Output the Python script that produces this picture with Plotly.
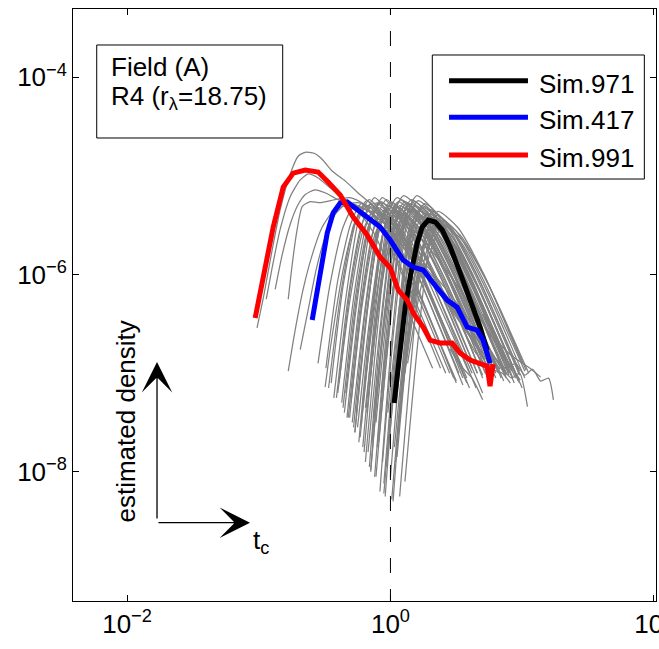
import plotly.graph_objects as go

# ---- data (log10 of t_c and log10 of estimated density) ----
sim971_log_t = [0.028, 0.051, 0.074, 0.112, 0.150, 0.203, 0.241, 0.287, 0.340, 0.393, 0.454, 0.530, 0.606, 0.681, 0.734]
sim971_log_d = [-7.303, -7.070, -6.766, -6.330, -6.025, -5.680, -5.518, -5.447, -5.467, -5.548, -5.721, -5.985, -6.259, -6.532, -6.766]

sim417_log_t = [-0.594, -0.549, -0.480, -0.435, -0.382, -0.329, -0.253, -0.154, -0.078, -0.002, 0.096, 0.172, 0.248, 0.324, 0.430, 0.506, 0.582, 0.658, 0.703, 0.756]
sim417_log_d = [-6.461, -6.086, -5.579, -5.375, -5.274, -5.264, -5.345, -5.447, -5.518, -5.650, -5.853, -5.924, -5.954, -6.086, -6.259, -6.330, -6.532, -6.563, -6.664, -6.898]

sim991_log_t = [-1.027, -0.966, -0.890, -0.814, -0.738, -0.647, -0.549, -0.473, -0.381, -0.283, -0.177, -0.078, -0.002, 0.059, 0.127, 0.173, 0.248, 0.301, 0.377, 0.468, 0.529, 0.605, 0.681, 0.734, 0.756, 0.779]
sim991_log_d = [-6.441, -6.025, -5.518, -5.112, -4.971, -4.940, -4.960, -5.062, -5.194, -5.417, -5.599, -5.823, -5.930, -6.157, -6.259, -6.390, -6.532, -6.664, -6.695, -6.695, -6.796, -6.867, -6.898, -6.928, -7.131, -6.908]

gray_log_t = [
    [-1.013, -0.960, -0.898, -0.837, -0.761, -0.701, -0.648, -0.580, -0.519, -0.443, -0.344, -0.230, -0.078, 0.074, 0.225, 0.377, 0.529, 0.665, 0.757],
    [-0.943, -0.898, -0.837, -0.761, -0.685, -0.625, -0.549, -0.458, -0.344, -0.193, -0.002, 0.188, 0.377, 0.567, 0.719],
    [-0.875, -0.822, -0.761, -0.701, -0.648, -0.572, -0.496, -0.397, -0.268, -0.154, 0.036, 0.225, 0.415, 0.605, 0.757],
    [-0.776, -0.746, -0.708, -0.670, -0.609, -0.534, -0.420, -0.306, -0.193, -0.040, 0.150, 0.340, 0.529, 0.719, 0.833],
    [-0.776, -0.723, -0.663, -0.594, -0.519, -0.443, -0.367, -0.291, -0.193, -0.040, 0.150, 0.377, 0.605, 0.795],
    [-0.685, -0.625, -0.564, -0.496, -0.420, -0.344, -0.246, -0.139, 0.036, 0.225, 0.453, 0.681, 0.871],
    [-0.496, -0.458, -0.412, -0.359, -0.306, -0.246, -0.170, -0.078, 0.036, 0.188, 0.377, 0.605, 0.833, 0.985],
    [-0.49, -0.40, -0.30, -0.22, -0.07, 0.13, 0.38],
    [-0.45, -0.36, -0.26, -0.18, -0.03, 0.17, 0.45],
    [-0.41, -0.32, -0.22, -0.14, 0.01, 0.21, 0.50],
    [-0.39, -0.30, -0.20, -0.12, 0.03, 0.23, 0.55],
    [-0.36, -0.27, -0.17, -0.09, 0.06, 0.26, 0.52],
    [-0.34, -0.25, -0.15, -0.07, 0.08, 0.28, 0.60],
    [-0.32, -0.23, -0.13, -0.05, 0.10, 0.30, 0.58],
    [-0.30, -0.21, -0.11, -0.03, 0.12, 0.32, 0.65],
    [-0.28, -0.19, -0.09, -0.01, 0.14, 0.34, 0.62],
    [-0.26, -0.17, -0.07, 0.01, 0.16, 0.36, 0.70],
    [-0.24, -0.15, -0.05, 0.03, 0.18, 0.38, 0.63],
    [-0.22, -0.13, -0.03, 0.05, 0.20, 0.40, 0.70],
    [-0.20, -0.11, -0.01, 0.07, 0.22, 0.42, 0.68],
    [-0.18, -0.09, 0.01, 0.09, 0.24, 0.44, 0.72],
    [-0.16, -0.07, 0.03, 0.11, 0.26, 0.46, 0.78],
    [-0.14, -0.05, 0.05, 0.13, 0.28, 0.48, 0.76],
    [-0.12, -0.03, 0.07, 0.15, 0.30, 0.50, 0.84],
    [-0.10, -0.01, 0.09, 0.17, 0.32, 0.52, 0.80],
    [-0.08, 0.01, 0.11, 0.19, 0.34, 0.54, 0.88],
    [-0.06, 0.03, 0.13, 0.21, 0.36, 0.56, 0.86],
    [-0.04, 0.05, 0.15, 0.23, 0.38, 0.58, 0.85],
    [-0.02, 0.07, 0.17, 0.25, 0.40, 0.60, 0.93],
    [0.00, 0.09, 0.19, 0.27, 0.42, 0.62, 0.90],
    [0.02, 0.11, 0.21, 0.29, 0.44, 0.64, 0.97],
    [0.04, 0.13, 0.23, 0.31, 0.46, 0.66, 0.95],
    [0.06, 0.15, 0.25, 0.33, 0.48, 0.68, 1.00],
    [0.08, 0.17, 0.27, 0.35, 0.50, 0.70, 1.02],
    [0.11, 0.20, 0.30, 0.38, 0.53, 0.73, 1.03],
    [-0.07, 0.02, 0.12, 0.20, 0.35, 0.55, 0.90],
    [-0.19, -0.10, 0.00, 0.08, 0.23, 0.43, 0.70],
    [-0.37, -0.28, -0.18, -0.10, 0.05, 0.25, 0.55],
    [-0.27, -0.18, -0.08, 0.00, 0.15, 0.35, 0.66],
    [-0.21, -0.12, -0.02, 0.06, 0.21, 0.41, 0.74],
    [-0.15, -0.06, 0.04, 0.12, 0.27, 0.47, 0.78],
    [-0.11, -0.02, 0.08, 0.16, 0.31, 0.51, 0.86],
    [-0.05, 0.04, 0.14, 0.22, 0.37, 0.57, 0.90],
    [-0.01, 0.08, 0.18, 0.26, 0.41, 0.61, 0.95],
    [0.05, 0.14, 0.24, 0.32, 0.47, 0.67, 0.98],
    [-0.31, -0.22, -0.12, -0.04, 0.11, 0.31, 0.55],
    [-0.17, -0.08, 0.02, 0.10, 0.25, 0.45, 0.80],
    [-0.47, -0.38, -0.28, -0.20, -0.05, 0.15, 0.42],
    [-0.43, -0.34, -0.24, -0.16, -0.01, 0.19, 0.48],
    [-0.40, -0.31, -0.21, -0.13, 0.02, 0.22, 0.50],
    [-0.35, -0.26, -0.16, -0.08, 0.07, 0.27, 0.58],
    [-0.33, -0.24, -0.14, -0.06, 0.09, 0.29, 0.60],
    [-0.29, -0.20, -0.10, -0.02, 0.13, 0.33, 0.62],
    [-0.27, -0.18, -0.08, 0.00, 0.15, 0.35, 0.70],
    [-0.25, -0.16, -0.06, 0.02, 0.17, 0.37, 0.66],
    [-0.23, -0.14, -0.04, 0.04, 0.19, 0.39, 0.72],
    [-0.21, -0.12, -0.02, 0.06, 0.21, 0.41, 0.74],
    [-0.19, -0.10, 0.00, 0.08, 0.23, 0.43, 0.78],
    [-0.17, -0.08, 0.02, 0.10, 0.25, 0.45, 0.80],
    [-0.15, -0.06, 0.04, 0.12, 0.27, 0.47, 0.82],
    [-0.13, -0.04, 0.06, 0.14, 0.29, 0.49, 0.80],
    [-0.11, -0.02, 0.08, 0.16, 0.31, 0.51, 0.86],
    [-0.09, 0.00, 0.10, 0.18, 0.33, 0.53, 0.88],
    [-0.05, 0.04, 0.14, 0.22, 0.37, 0.57, 0.88],
    [-0.03, 0.06, 0.16, 0.24, 0.39, 0.59, 0.92],
    [-0.01, 0.08, 0.18, 0.26, 0.41, 0.61, 0.95],
    [0.01, 0.10, 0.20, 0.28, 0.43, 0.63, 0.94],
    [0.03, 0.12, 0.22, 0.30, 0.45, 0.65, 0.98],
    [0.07, 0.16, 0.26, 0.34, 0.49, 0.69, 0.98],
    [0.09, 0.18, 0.28, 0.36, 0.51, 0.71, 1.00],
    [0.13, 0.22, 0.32, 0.40, 0.55, 0.75, 1.05],
    [-0.55, -0.46, -0.36, -0.28, -0.13, 0.07, 0.32],
    [0.11, 0.20, 0.30, 0.38, 0.53, 0.73, 1.02],
    [0.07, 0.16, 0.26, 0.34, 0.49, 0.69, 0.98],
    [0.60, 0.70, 0.80, 0.88, 0.95, 1.02, 1.08, 1.14, 1.20, 1.237],
    [0.65, 0.75, 0.85, 0.92, 0.98, 1.04],
    [0.70, 0.80, 0.90, 0.98, 1.06, 1.14],
    [0.55, 0.65, 0.75, 0.85, 0.91],
    [0.45, 0.55, 0.62, 0.70],
]
gray_log_d = [
    [-6.54, -6.20, -5.75, -5.34, -4.98, -4.80, -4.76, -4.77, -4.83, -4.95, -5.05, -5.19, -5.36, -5.59, -5.87, -6.15, -6.46, -6.76, -6.98],
    [-6.25, -5.93, -5.54, -5.21, -5.04, -4.98, -5.02, -5.12, -5.24, -5.39, -5.59, -5.87, -6.20, -6.56, -6.86],
    [-6.15, -5.80, -5.49, -5.29, -5.19, -5.14, -5.17, -5.24, -5.29, -5.36, -5.59, -5.90, -6.25, -6.61, -6.91],
    [-6.25, -5.90, -5.54, -5.31, -5.26, -5.27, -5.24, -5.22, -5.29, -5.44, -5.75, -6.05, -6.41, -6.76, -6.96],
    [-6.98, -6.56, -6.15, -5.80, -5.52, -5.37, -5.31, -5.30, -5.34, -5.49, -5.80, -6.17, -6.56, -6.91],
    [-6.76, -6.36, -5.95, -5.62, -5.39, -5.29, -5.27, -5.32, -5.52, -5.83, -6.20, -6.61, -7.02],
    [-7.14, -6.76, -6.36, -5.95, -5.64, -5.42, -5.30, -5.27, -5.34, -5.56, -5.87, -6.30, -6.76, -7.07],
    [-6.95, -6.06, -5.48, -5.28, -5.53, -6.13, -6.95],
    [-7.10, -6.12, -5.45, -5.25, -5.50, -6.10, -7.00],
    [-7.25, -6.22, -5.50, -5.30, -5.55, -6.15, -7.10],
    [-7.10, -6.10, -5.42, -5.22, -5.47, -6.07, -7.12],
    [-7.35, -6.27, -5.52, -5.32, -5.57, -6.17, -7.00],
    [-7.20, -6.17, -5.46, -5.26, -5.51, -6.11, -7.15],
    [-7.45, -6.34, -5.55, -5.35, -5.60, -6.20, -7.05],
    [-7.30, -6.21, -5.44, -5.24, -5.49, -6.09, -7.15],
    [-7.55, -6.36, -5.50, -5.30, -5.55, -6.15, -7.00],
    [-7.40, -6.27, -5.47, -5.27, -5.52, -6.12, -7.20],
    [-7.70, -6.45, -5.54, -5.34, -5.52, -6.02, -6.80],
    [-7.50, -6.29, -5.42, -5.22, -5.40, -5.90, -6.85],
    [-7.80, -6.47, -5.50, -5.30, -5.48, -5.98, -6.80],
    [-7.40, -6.33, -5.58, -5.38, -5.56, -6.06, -6.95],
    [-7.95, -6.52, -5.46, -5.26, -5.44, -5.94, -6.95],
    [-7.70, -6.44, -5.53, -5.33, -5.51, -6.01, -6.90],
    [-8.05, -6.58, -5.48, -5.28, -5.46, -5.96, -7.05],
    [-7.75, -6.48, -5.56, -5.36, -5.54, -6.04, -6.95],
    [-8.20, -6.66, -5.50, -5.30, -5.48, -5.98, -7.05],
    [-7.90, -6.50, -5.45, -5.25, -5.43, -5.93, -6.88],
    [-8.25, -6.74, -5.60, -5.40, -5.58, -6.08, -6.95],
    [-7.40, -6.30, -5.52, -5.32, -5.50, -6.00, -7.05],
    [-8.05, -6.67, -5.65, -5.45, -5.63, -6.13, -7.00],
    [-8.30, -6.75, -5.58, -5.38, -5.56, -6.06, -7.08],
    [-7.90, -6.59, -5.62, -5.42, -5.60, -6.10, -7.00],
    [-7.60, -6.49, -5.70, -5.50, -5.68, -6.18, -7.15],
    [-7.20, -6.25, -5.60, -5.40, -5.56, -6.04, -6.98],
    [-7.00, -6.18, -5.65, -5.45, -5.60, -6.06, -6.97],
    [-7.20, -6.14, -5.40, -5.20, -5.38, -5.88, -6.95],
    [-7.35, -6.34, -5.65, -5.45, -5.63, -6.13, -7.05],
    [-7.30, -6.24, -5.48, -5.28, -5.50, -6.05, -6.95],
    [-7.60, -6.40, -5.52, -5.32, -5.52, -6.05, -7.00],
    [-7.75, -6.44, -5.46, -5.26, -5.44, -5.94, -6.95],
    [-7.98, -6.62, -5.62, -5.42, -5.60, -6.10, -7.02],
    [-7.50, -6.32, -5.44, -5.24, -5.42, -5.92, -6.98],
    [-8.12, -6.70, -5.55, -5.35, -5.53, -6.03, -7.02],
    [-7.70, -6.45, -5.48, -5.28, -5.46, -5.96, -7.00],
    [-7.85, -6.58, -5.56, -5.36, -5.54, -6.04, -6.98],
    [-7.45, -6.36, -5.60, -5.40, -5.65, -6.25, -7.05],
    [-7.25, -6.18, -5.40, -5.20, -5.38, -5.88, -6.95],
    [-7.15, -6.22, -5.50, -5.30, -5.55, -6.15, -7.00],
    [-7.25, -6.25, -5.44, -5.24, -5.49, -6.09, -7.05],
    [-7.20, -6.28, -5.56, -5.36, -5.61, -6.21, -7.08],
    [-7.40, -6.34, -5.48, -5.28, -5.53, -6.13, -7.10],
    [-7.45, -6.34, -5.42, -5.22, -5.47, -6.07, -7.00],
    [-7.50, -6.42, -5.54, -5.34, -5.52, -6.02, -6.95],
    [-7.60, -6.43, -5.46, -5.26, -5.44, -5.94, -7.02],
    [-7.55, -6.48, -5.60, -5.40, -5.58, -6.08, -7.00],
    [-7.65, -6.48, -5.50, -5.30, -5.48, -5.98, -7.00],
    [-7.30, -6.33, -5.56, -5.36, -5.54, -6.04, -7.05],
    [-7.90, -6.57, -5.44, -5.24, -5.42, -5.92, -6.98],
    [-7.80, -6.56, -5.52, -5.32, -5.50, -6.00, -7.05],
    [-8.00, -6.64, -5.48, -5.28, -5.46, -5.96, -7.00],
    [-7.45, -6.43, -5.60, -5.40, -5.58, -6.08, -7.00],
    [-8.05, -6.70, -5.54, -5.34, -5.52, -6.02, -7.08],
    [-7.70, -6.48, -5.46, -5.26, -5.44, -5.94, -7.00],
    [-8.22, -6.82, -5.62, -5.42, -5.60, -6.10, -7.02],
    [-7.95, -6.62, -5.50, -5.30, -5.48, -5.98, -6.98],
    [-7.50, -6.44, -5.58, -5.38, -5.56, -6.06, -7.05],
    [-8.28, -6.87, -5.66, -5.46, -5.64, -6.14, -7.10],
    [-7.75, -6.54, -5.54, -5.34, -5.52, -6.02, -7.02],
    [-7.40, -6.46, -5.72, -5.52, -5.70, -6.20, -7.10],
    [-7.10, -6.23, -5.56, -5.36, -5.52, -6.00, -6.90],
    [-6.90, -6.20, -5.70, -5.50, -5.66, -6.12, -7.00],
    [-6.90, -6.11, -5.52, -5.32, -5.57, -6.17, -6.95],
    [-8.10, -6.79, -5.68, -5.48, -5.66, -6.16, -7.05],
    [-8.25, -6.84, -5.62, -5.42, -5.60, -6.10, -7.00],
    [-6.35, -6.62, -6.85, -6.95, -6.90, -7.02, -6.96, -7.08, -7.05, -7.27],
    [-6.45, -6.75, -6.95, -7.05, -7.00, -7.34],
    [-6.40, -6.65, -6.80, -6.88, -6.95, -7.04],
    [-6.55, -6.80, -6.95, -7.00, -7.10],
    [-6.75, -6.95, -7.05, -7.27],
]

series_names = ["Sim.971", "Sim.417", "Sim.991"]
series_colors = ["#000000", "#0000FF", "#FF0000"]
ref_t = 1.0
x_tick_vals = [1e-2, 1e0, 1e2]
x_tick_text = ["10<sup>\u22122</sup>", "10<sup>0</sup>", "10<sup>2</sup>"]
y_tick_vals = [1e-8, 1e-6, 1e-4]
y_tick_text = ["10<sup>\u22128</sup>", "10<sup>\u22126</sup>", "10<sup>\u22124</sup>"]

FONT = "Liberation Sans, Arial, Helvetica, sans-serif"


def p10(vals):
    return [10 ** v for v in vals]


fig = go.Figure()

for lt, ld in zip(gray_log_t, gray_log_d):
    fig.add_trace(go.Scatter(x=p10(lt), y=p10(ld), mode="lines",
                             line=dict(color="#808080", width=1.25, shape="spline", smoothing=0.6),
                             showlegend=False, hoverinfo="skip"))

# vertical dashed reference line at t_c = 1
fig.add_trace(go.Scatter(x=[ref_t, ref_t], y=[10 ** -3.216, 10 ** -9.6], mode="lines",
                         line=dict(color="#000000", width=1, dash="15px,16px"),
                         showlegend=False, hoverinfo="skip"))

for name, color, lt, ld in zip(series_names, series_colors,
                               [sim971_log_t, sim417_log_t, sim991_log_t],
                               [sim971_log_d, sim417_log_d, sim991_log_d]):
    fig.add_trace(go.Scatter(x=p10(lt), y=p10(ld), mode="lines", name=name,
                             line=dict(color=color, width=5), showlegend=False))

# ---- layout geometry (paper coords) ----
shapes = []
annotations = []

# info box
shapes.append(dict(type="rect", xref="paper", yref="paper", x0=0.0407, x1=0.3597, y0=0.7821, y1=0.9392,
                   line=dict(color="black", width=1), fillcolor="white", layer="above"))
annotations.append(dict(xref="paper", yref="paper", x=0.061, y=0.9012, xanchor="left", yanchor="middle",
                        text="Field (A)", showarrow=False, font=dict(family=FONT, size=26, color="black")))
annotations.append(dict(xref="paper", yref="paper", x=0.061, y=0.8505, xanchor="left", yanchor="middle",
                        text="R4 (r<sub>λ</sub>=18.75)", showarrow=False,
                        font=dict(family=FONT, size=26, color="black")))

# manual legend
shapes.append(dict(type="rect", xref="paper", yref="paper", x0=0.6163, x1=0.980, y0=0.7128, y1=0.9223,
                   line=dict(color="black", width=1), fillcolor="white", layer="above"))
legend_line_y = [0.8789, 0.8171, 0.7534]
legend_text_y = [0.8738, 0.8120, 0.7483]
for name, color, ly, ty in zip(series_names, series_colors, legend_line_y, legend_text_y):
    shapes.append(dict(type="line", xref="paper", yref="paper", x0=0.645, x1=0.7804, y0=ly, y1=ly,
                       line=dict(color=color, width=5), layer="above"))
    annotations.append(dict(xref="paper", yref="paper", x=0.7959, y=ty, xanchor="left", yanchor="middle",
                            text=name, showarrow=False, font=dict(family=FONT, size=26, color="black")))

# axis-direction arrows
annotations.append(dict(xref="paper", yref="paper", x=0.1441, y=0.4037, ax=0, ay=158, text="",
                        showarrow=True, arrowhead=3, arrowsize=3.9, arrowwidth=1.3, arrowcolor="black",
                        standoff=0, startstandoff=0))
annotations.append(dict(xref="paper", yref="paper", x=0.3036, y=0.1323, ax=-93, ay=0, text="",
                        showarrow=True, arrowhead=3, arrowsize=3.9, arrowwidth=1.3, arrowcolor="black",
                        standoff=0, startstandoff=0))
annotations.append(dict(xref="paper", yref="paper", x=0.3053, y=0.1002, xanchor="left", yanchor="middle",
                        text="t<sub>c</sub>", showarrow=False, font=dict(family=FONT, size=26, color="black")))
annotations.append(dict(xref="paper", yref="paper", x=0.0909, y=0.3032, xanchor="center", yanchor="middle",
                        text="estimated density", textangle=-90, showarrow=False,
                        font=dict(family=FONT, size=26, color="black")))

axis_common = dict(type="log", ticks="inside", ticklen=6, tickwidth=1, tickcolor="black",
                   showline=True, linecolor="black", linewidth=1, mirror="ticks",
                   showgrid=False, zeroline=False, ticklabeloverflow="allow", automargin=False,
                   tickfont=dict(family=FONT, size=26, color="black"))

fig.update_layout(
    width=659, height=649, autosize=False,
    margin=dict(l=73, r=3, t=9, b=48, pad=0, autoexpand=False),
    paper_bgcolor="white", plot_bgcolor="white",
    xaxis=dict(range=[-2.41, 2.016], tickmode="array", tickvals=x_tick_vals, ticktext=x_tick_text,
               **axis_common),
    yaxis=dict(range=[-9.31, -3.307], tickmode="array", tickvals=y_tick_vals, ticktext=y_tick_text,
               **axis_common),
    shapes=shapes, annotations=annotations, showlegend=False,
)

fig.write_html("out.html")
